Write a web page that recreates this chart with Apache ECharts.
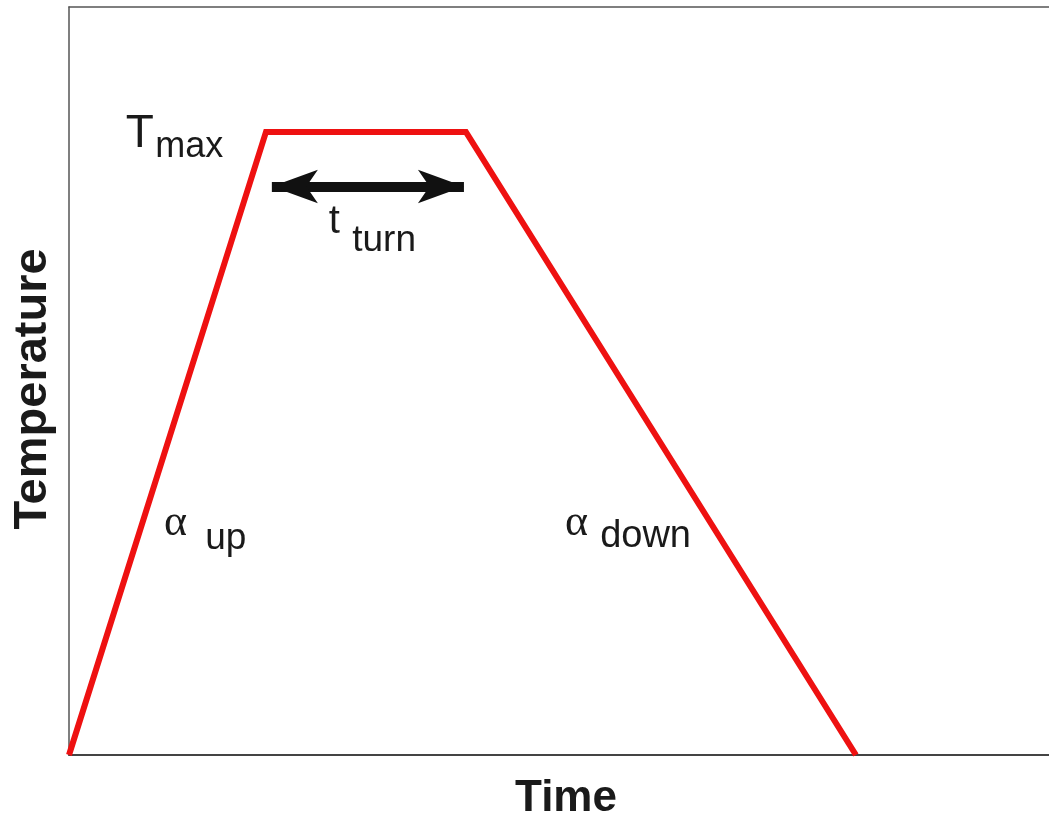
<!DOCTYPE html>
<html>
<head>
<meta charset="utf-8">
<script src="https://cdn.jsdelivr.net/npm/echarts@6/dist/echarts.min.js"></script>
<style>
  html, body { margin: 0; padding: 0; background: #ffffff; }
  #chart { width: 1049px; height: 816px; }
</style>
</head>
<body>
<div id="chart"></div>
<script>
// Heating profile: ramp up, hold at Tmax, ramp down (arbitrary units)
const timePoints = [0, 20.1, 40.5, 80.3];
const temperatures = [0, 83.3, 83.3, 0];

// Hold-duration arrow (start / end time, temperature level)
const turnArrow = { from: 20.7, to: 40.3, level: 76.0 };

// Annotation texts anchored in data coordinates
const annotations = [
  { text: 'T',    x: 5.8,  y: 83.0, size: 46, family: 'Liberation Sans' },
  { text: 'max',  x: 8.8,  y: 81.3, size: 36, family: 'Liberation Sans' },
  { text: 't',    x: 26.5, y: 71.2, size: 40, family: 'Liberation Sans' },
  { text: 'turn', x: 28.9, y: 68.8, size: 37, family: 'Liberation Sans' },
  { text: 'α',    x: 9.7,  y: 31.0, size: 44, family: 'Liberation Serif' },
  { text: 'up',   x: 13.9, y: 28.9, size: 37, family: 'Liberation Sans' },
  { text: 'α',    x: 50.6, y: 31.0, size: 44, family: 'Liberation Serif' },
  { text: 'down', x: 54.2, y: 29.2, size: 38, family: 'Liberation Sans' }
];

const chart = echarts.init(document.getElementById('chart'), null, { renderer: 'canvas' });

const axisCommon = {
  type: 'value',
  min: 0,
  max: 100,
  axisTick: { show: false },
  axisLabel: { show: false },
  splitLine: { show: false },
  nameLocation: 'middle',
  nameTextStyle: {
    fontFamily: 'Liberation Sans',
    fontWeight: 'bold',
    color: '#1a1a1a'
  }
};

chart.setOption({
  backgroundColor: '#ffffff',
  animation: false,
  grid: { left: 69, right: 0, top: 7, bottom: 61, outerBoundsMode: 'none', containLabel: false },
  xAxis: [
    Object.assign({}, axisCommon, {
      name: 'Time',
      nameGap: 22,
      nameTextStyle: Object.assign({}, axisCommon.nameTextStyle, { fontSize: 44, padding: [0, 0, 0, 14] }),
      axisLine: { show: true, onZero: false, lineStyle: { color: '#444444', width: 2 } }
    }),
    Object.assign({}, axisCommon, {
      position: 'top',
      axisLine: { show: true, onZero: false, lineStyle: { color: '#555555', width: 1.5 } }
    })
  ],
  yAxis: Object.assign({}, axisCommon, {
    name: 'Temperature',
    nameGap: 12,
    nameTextStyle: Object.assign({}, axisCommon.nameTextStyle, { fontSize: 47, padding: [0, 16, 0, 0] }),
    axisLine: { show: true, onZero: false, lineStyle: { color: '#555555', width: 1.5 } }
  }),
  series: [
    {
      type: 'line',
      xAxisIndex: 0,
      data: timePoints.map((t, i) => [t, temperatures[i]]),
      symbol: 'none',
      lineStyle: { color: '#ee1111', width: 6, join: 'miter' },
      z: 3,
      markLine: {
        silent: true,
        symbol: ['arrow', 'arrow'],
        symbolSize: [25, 46],
        label: { show: false },
        lineStyle: { color: '#111111', width: 10, type: 'solid' },
        data: [[
          { coord: [turnArrow.from, turnArrow.level] },
          { coord: [turnArrow.to, turnArrow.level] }
        ]]
      },
      markPoint: {
        silent: true,
        symbol: 'circle',
        symbolSize: 0,
        data: annotations.map(a => ({
          coord: [a.x, a.y],
          label: {
            show: true,
            formatter: a.text,
            position: 'inside',
            align: 'left',
            verticalAlign: 'middle',
            fontSize: a.size,
            fontFamily: a.family,
            color: '#1a1a1a'
          }
        }))
      }
    }
  ]
});
</script>
</body>
</html>
